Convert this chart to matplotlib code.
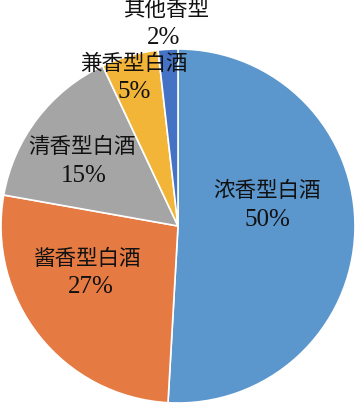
import matplotlib
matplotlib.use("Agg")
import matplotlib.pyplot as plt

categories = ["浓香型白酒", "酱香型白酒", "清香型白酒", "兼香型白酒", "其他香型"]
shares = [50.9, 26.9, 15.2, 5.2, 1.8]
pct_labels = ["50%", "27%", "15%", "5%", "2%"]
colors = ["#5B96CC", "#E57A43", "#A5A5A5", "#F2B537", "#4472C4"]
# label centre positions (name line, pct line) in units of pie radius (layout only)
name_pos = [(0.505, 0.20), (-0.51, -0.185), (-0.54, 0.445), (-0.25, 0.915), (-0.07, 1.225)]
pct_pos = [(0.505, 0.04), (-0.49, -0.34), (-0.53, 0.29), (-0.245, 0.76), (-0.08, 1.07)]

W, H = 357, 406
fig = plt.figure(figsize=(W / 100, H / 100), dpi=100)
cx, cy, R = 178, 227, 177
ax = fig.add_axes([(cx - R) / W, (H - cy - R) / H, 2 * R / W, 2 * R / H])
ax.pie(shares, colors=colors, startangle=90, counterclock=False, radius=1,
       wedgeprops=dict(edgecolor="white", linewidth=1.2))
ax.set_xlim(-1, 1)
ax.set_ylim(-1, 1)
ax.set_aspect("equal")
ax.axis("off")

fam = ["Liberation Serif", "Noto Sans CJK SC"]
for cat, pct, (nx, ny), (px, py) in zip(categories, pct_labels, name_pos, pct_pos):
    ax.text(nx, ny, cat, ha="center", va="center", fontsize=15.5,
            family=fam, color="#111111", clip_on=False)
    ax.text(px, py, pct, ha="center", va="center", fontsize=18,
            family=fam, color="#111111", clip_on=False)

fig.savefig("out.png", dpi=100)
